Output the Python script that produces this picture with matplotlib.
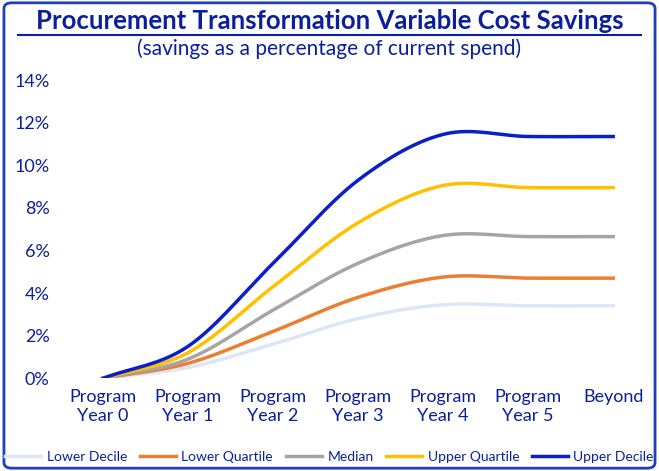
import numpy as np
import matplotlib.pyplot as plt
from matplotlib.patches import FancyBboxPatch

categories = ["Program\nYear 0", "Program\nYear 1", "Program\nYear 2", "Program\nYear 3",
              "Program\nYear 4", "Program\nYear 5", "Beyond"]
lower_decile = [0, 0.5, 1.6, 2.8, 3.45, 3.4, 3.4]
lower_quartile = [0, 0.7, 2.2, 3.8, 4.75, 4.7, 4.7]
median = [0, 0.9, 3.2, 5.4, 6.7, 6.65, 6.65]
upper_quartile = [0, 1.2, 4.3, 7.3, 9.05, 8.95, 8.95]
upper_decile = [0, 1.5, 5.4, 9.3, 11.45, 11.35, 11.35]
series = [("Lower Decile", lower_decile, "#dce6f7"),
          ("Lower Quartile", lower_quartile, "#ed7d31"),
          ("Median", median, "#a5a5a5"),
          ("Upper Quartile", upper_quartile, "#ffc000"),
          ("Upper Decile", upper_decile, "#0a1fc8")]

plt.rcParams['font.family'] = ['Lato', 'DejaVu Sans']
blue = "#0a1f9e"

def smooth(y, n=30):
    x = np.arange(len(y), dtype=float); y = np.asarray(y, float)
    p = np.concatenate([[2*y[0]-y[1]], y, [2*y[-1]-y[-2]]])
    xs, ys = [], []
    for i in range(len(y)-1):
        t = np.linspace(0, 1, n, endpoint=False)
        p0, p1, p2, p3 = p[i], p[i+1], p[i+2], p[i+3]
        m1 = (p2-p0)/2; m2 = (p3-p1)/2
        h00 = 2*t**3-3*t**2+1; h10 = t**3-2*t**2+t; h01 = -2*t**3+3*t**2; h11 = t**3-t**2
        ys.append(h00*p1+h10*m1+h01*p2+h11*m2); xs.append(x[i]+t)
    xs.append([x[-1]]); ys.append([y[-1]])
    return np.concatenate(xs), np.concatenate(ys)

fig = plt.figure(figsize=(6.59, 4.71), dpi=100)
fig.patches.append(FancyBboxPatch((0.006, 0.006), 0.988, 0.988, boxstyle="round,pad=0,rounding_size=0.012",
                                  transform=fig.transFigure, fill=False, ec="#1f3fbf", lw=2))
ax = fig.add_axes([0.092, 0.197, 0.903, 0.633])
for name, vals, c in series:
    xs, ys = smooth(vals)
    ax.plot(xs, ys, color=c, lw=2.5, label=name)
ax.set_xlim(-0.5, 6.5); ax.set_ylim(0, 14)
ax.set_yticks(range(0, 15, 2))
ax.set_yticklabels([f"{v}%" for v in range(0, 15, 2)], color=blue, fontsize=13)
ax.set_xticks(range(7)); ax.set_xticklabels(categories, color=blue, fontsize=13)
for s in ax.spines.values(): s.set_visible(False)
ax.tick_params(length=0, pad=8)
fig.text(0.5, 0.955, "Procurement Transformation Variable Cost Savings", ha="center", va="center",
         fontsize=18.5, fontweight="bold", color=blue)
fig.add_artist(plt.Line2D([0.027, 0.973], [0.925, 0.925], color=blue, lw=1.5))
fig.text(0.5, 0.897, "(savings as a percentage of current spend)", ha="center", va="center",
         fontsize=15, color=blue)
fig.legend(loc="center", bbox_to_anchor=(0.5, 0.03), ncol=5, frameon=False, fontsize=10,
           labelcolor=blue, handlelength=2.6, columnspacing=0.9, handletextpad=0.4)
fig.savefig("out.png", dpi=100)
